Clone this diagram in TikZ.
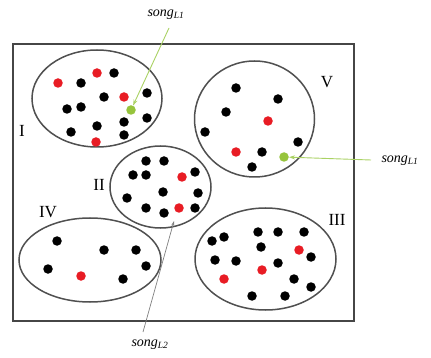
\documentclass[tikz,border=0pt]{standalone}
\usepackage{fontspec}
\setmainfont{Liberation Serif}
\usetikzlibrary{arrows.meta}
\definecolor{dotred}{RGB}{232,28,36}
\definecolor{dotgreen}{RGB}{150,196,60}
\definecolor{linegreen}{RGB}{170,210,100}
\definecolor{frame}{RGB}{70,70,70}
\definecolor{ell}{RGB}{80,80,80}
\tikzset{
  bd/.style={circle,fill=black,inner sep=0pt,minimum size=9.5pt},
  rd/.style={circle,fill=dotred,inner sep=0pt,minimum size=9.5pt},
  gd/.style={circle,fill=dotgreen,inner sep=0pt,minimum size=9.5pt},
  grp/.style={draw=ell,line width=1.5pt},
  roman/.style={font=\fontsize{17}{18}\selectfont,inner sep=0pt},
  songlab/.style={font=\fontsize{14}{15}\selectfont\itshape,inner sep=1pt},
  garrow/.style={draw=linegreen,line width=0.9pt,-{Stealth[length=6pt,width=4pt]}},
  karrow/.style={draw=gray,line width=0.7pt,-{Stealth[length=5pt,width=3pt]}}
}
\newcommand{\songsub}[1]{song\textsubscript{\fontsize{9.5}{10}\selectfont\itshape #1}}
\begin{document}
\begin{tikzpicture}[x=1pt,y=-1pt]
\useasboundingbox (0,0) rectangle (431,358);
\fill[white] (0,0) rectangle (431,358);
\draw[frame,line width=2pt] (13,44) rectangle (354,321);
% group ellipses
\draw[grp] (97,98.5) ellipse [x radius=65,y radius=48.5];
\draw[grp] (254.5,119) ellipse [x radius=60,y radius=58];
\draw[grp] (160.5,187) ellipse [x radius=50.5,y radius=41];
\draw[grp] (90,260) ellipse [x radius=71,y radius=42];
\draw[grp] (265.5,259) ellipse [x radius=70.5,y radius=51];
% labels
\node[roman] (lI) at (22,131) {I};
\node[roman] (lII) at (99,185) {II};
\node[roman] (lIII) at (337,220) {III};
\node[roman] (lIV) at (48,212) {IV};
\node[roman] (lV) at (327,82) {V};
% group I
\node[rd] (a1) at (58,83) {};
\node[rd] (a2) at (97,73) {};
\node[bd] (a3) at (114,73) {};
\node[bd] (a4) at (81,83) {};
\node[bd] (a5) at (104,97) {};
\node[rd] (a6) at (124,97) {};
\node[bd] (a7) at (147,93) {};
\node[gd] (ga) at (131,110) {};
\node[bd] (a8) at (67,109) {};
\node[bd] (a9) at (81,107) {};
\node[bd] (a10) at (147,118) {};
\node[bd] (a11) at (71,132) {};
\node[bd] (a12) at (97,126) {};
\node[bd] (a13) at (124,122) {};
\node[bd] (a14) at (124,135) {};
\node[rd] (a15) at (96,142) {};
% group V
\node[bd] (v1) at (236,88) {};
\node[bd] (v2) at (278,99) {};
\node[bd] (v3) at (226,112) {};
\node[rd] (v4) at (268,121) {};
\node[bd] (v5) at (205,132) {};
\node[bd] (v6) at (298,142) {};
\node[rd] (v7) at (236,152) {};
\node[bd] (v8) at (262,152) {};
\node[gd] (gv) at (284,157) {};
\node[bd] (v9) at (252,167) {};
% group II
\node[bd] (b1) at (146,161) {};
\node[bd] (b2) at (164,161) {};
\node[bd] (b3) at (133,175) {};
\node[bd] (b4) at (146,175) {};
\node[rd] (b5) at (182,177) {};
\node[bd] (b6) at (195,172) {};
\node[bd] (b7) at (163,192) {};
\node[bd] (b8) at (198,193) {};
\node[bd] (b9) at (127,198) {};
\node[bd] (b10) at (146,208) {};
\node[bd] (b11) at (164,213) {};
\node[rd] (b12) at (179,208) {};
\node[bd] (b13) at (195,208) {};
% group IV
\node[bd] (d1) at (57,241) {};
\node[bd] (d2) at (104,250) {};
\node[bd] (d3) at (136,250) {};
\node[bd] (d4) at (48,269) {};
\node[rd] (d5) at (81,276) {};
\node[bd] (d6) at (146,266) {};
\node[bd] (d7) at (123,279) {};
% group III
\node[bd] (c1) at (212,241) {};
\node[bd] (c2) at (224,237) {};
\node[bd] (c3) at (258,232) {};
\node[bd] (c4) at (278,232) {};
\node[bd] (c5) at (304,232) {};
\node[bd] (c6) at (261,247) {};
\node[rd] (c7) at (299,250) {};
\node[bd] (c8) at (311,257) {};
\node[bd] (c9) at (215,260) {};
\node[bd] (c10) at (236,261) {};
\node[rd] (c11) at (262,270) {};
\node[bd] (c12) at (278,263) {};
\node[rd] (c13) at (224,279) {};
\node[bd] (c14) at (294,279) {};
\node[bd] (c15) at (311,287) {};
\node[bd] (c16) at (252,296) {};
\node[bd] (c17) at (285,296) {};
% song labels
\node[songlab] (s1) at (166,15) {\songsub{L1}};
\node[songlab] (s2) at (400,161) {\songsub{L1}};
\node[songlab] (s3) at (150,345) {\songsub{L2}};
\coordinate (s1a) at (169,28);
\coordinate (s2a) at (371,160);
\coordinate (s3a) at (143,332);
\coordinate (t3) at (174,221);
\draw[garrow] (s1a) -- (ga);
\draw[garrow] (s2a) -- (gv);
\draw[karrow] (s3a) -- (t3);
\end{tikzpicture}
\end{document}
